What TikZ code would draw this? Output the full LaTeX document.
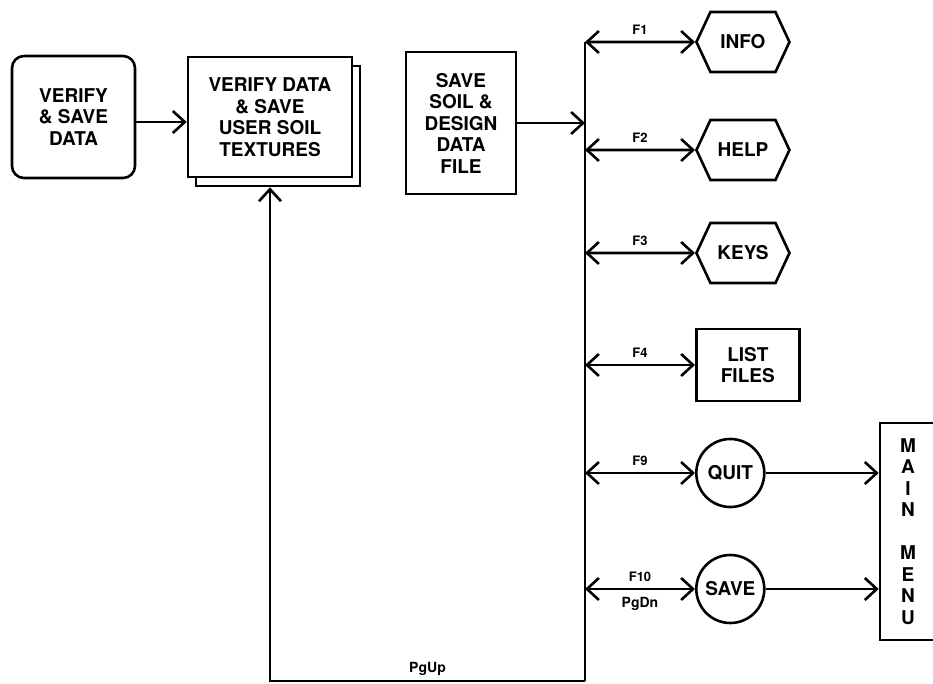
\documentclass[tikz,border=0pt]{standalone}
\usepackage{fontspec}
\setmainfont{TeX Gyre Heros}
\usepackage{tikz}
\usetikzlibrary{shapes.geometric, shapes.symbols, arrows.meta, positioning, shadows}

\begin{document}
\begin{tikzpicture}[
    x=1pt, y=-1pt,
    line width=2.6pt,
    font=\bfseries\fontsize{19}{21.5}\selectfont,
    node distance=110pt,
    % Styles
    procbox/.style={draw, fill=white, align=center, inner sep=2pt},
    hexbox/.style={draw, signal, signal to=west and east, signal pointer angle=130, minimum width=93pt, minimum height=60pt, inner sep=2pt},
    endcircle/.style={draw, circle, minimum size=68pt, inner sep=0pt},
    keylabel/.style={font=\bfseries\fontsize{13}{15}\selectfont, inner sep=1pt},
    arrow/.style={-{Straight Barb[length=12pt, width=22pt]}},
    dblarrow/.style={{Straight Barb[length=12pt, width=22pt]}-{Straight Barb[length=12pt, width=22pt]}}
]
    \useasboundingbox (0,0) rectangle (933,684);

    % Main chain
    \node (verify) [procbox, rounded corners=12pt, minimum width=123pt, minimum height=122pt] at (73.5,117) {VERIFY\\\& SAVE\\DATA};
    \node (textures) [procbox, minimum width=164pt, minimum height=120pt, copy shadow={shadow xshift=8pt, shadow yshift=-9pt, draw, fill=white}] at (270,117) {VERIFY DATA\\\& SAVE\\USER SOIL\\TEXTURES};
    \node (savefile) [procbox, minimum width=110pt, minimum height=142pt] at (461,123) {SAVE\\SOIL \&\\DESIGN\\DATA\\FILE};

    \draw [arrow] (verify.east |- 0,122) -- (textures.west |- 0,122);

    % Key bus
    \coordinate (bustop) at (585,42);
    \coordinate (busbot) at (585,681);
    \draw (bustop) -- (busbot);
    \draw [arrow] (savefile.east |- 0,123) -- (585,123);

    \coordinate (k1) at (585,42);
    \coordinate (k2) at (585,150);
    \coordinate (k3) at (585,253);
    \coordinate (k4) at (585,365);
    \coordinate (k9) at (585,473);
    \coordinate (k10) at (585,589);

    % Key targets
    \node (info) [hexbox, right=of k1] {INFO};
    \node (help) [hexbox, right=of k2] {HELP};
    \node (keys) [hexbox, right=of k3] {KEYS};
    \node (list) [procbox, minimum width=103pt, minimum height=72pt, right=of k4] {LIST\\FILES};
    \node (quit) [endcircle, right=of k9] {QUIT};
    \node (save) [endcircle, right=of k10] {SAVE};
    \node (menu) [procbox, minimum width=56pt, minimum height=217pt, inner sep=0pt] at (908,531.5) {M\\A\\I\\N\\[21.5pt]M\\E\\N\\U};

    % Key arrows
    \draw [dblarrow] (k1) -- node [keylabel, above=5pt] {F1} (info);
    \draw [dblarrow] (k2) -- node [keylabel, above=5pt] {F2} (help);
    \draw [dblarrow] (k3) -- node [keylabel, above=5pt] {F3} (keys);
    \draw [dblarrow] (k4) -- node [keylabel, above=5pt] {F4} (list);
    \draw [dblarrow] (k9) -- node [keylabel, above=5pt] {F9} (quit);
    \draw [dblarrow] (k10) -- node [keylabel, above=5pt] {F10} node [keylabel, below=6pt, font=\bfseries\fontsize{14}{16}\selectfont] {PgDn} (save);

    \draw [arrow] (quit) -- (quit -| menu.west);
    \draw [arrow] (save) -- (save -| menu.west);

    % Return path
    \coordinate (loopcorner) at (textures.south |- busbot);
    \draw [arrow, shorten >=9pt] (busbot) -- node [keylabel, above=3pt, font=\bfseries\fontsize{14}{16}\selectfont] {PgUp} (loopcorner) -- (textures.south);

\end{tikzpicture}
\end{document}
